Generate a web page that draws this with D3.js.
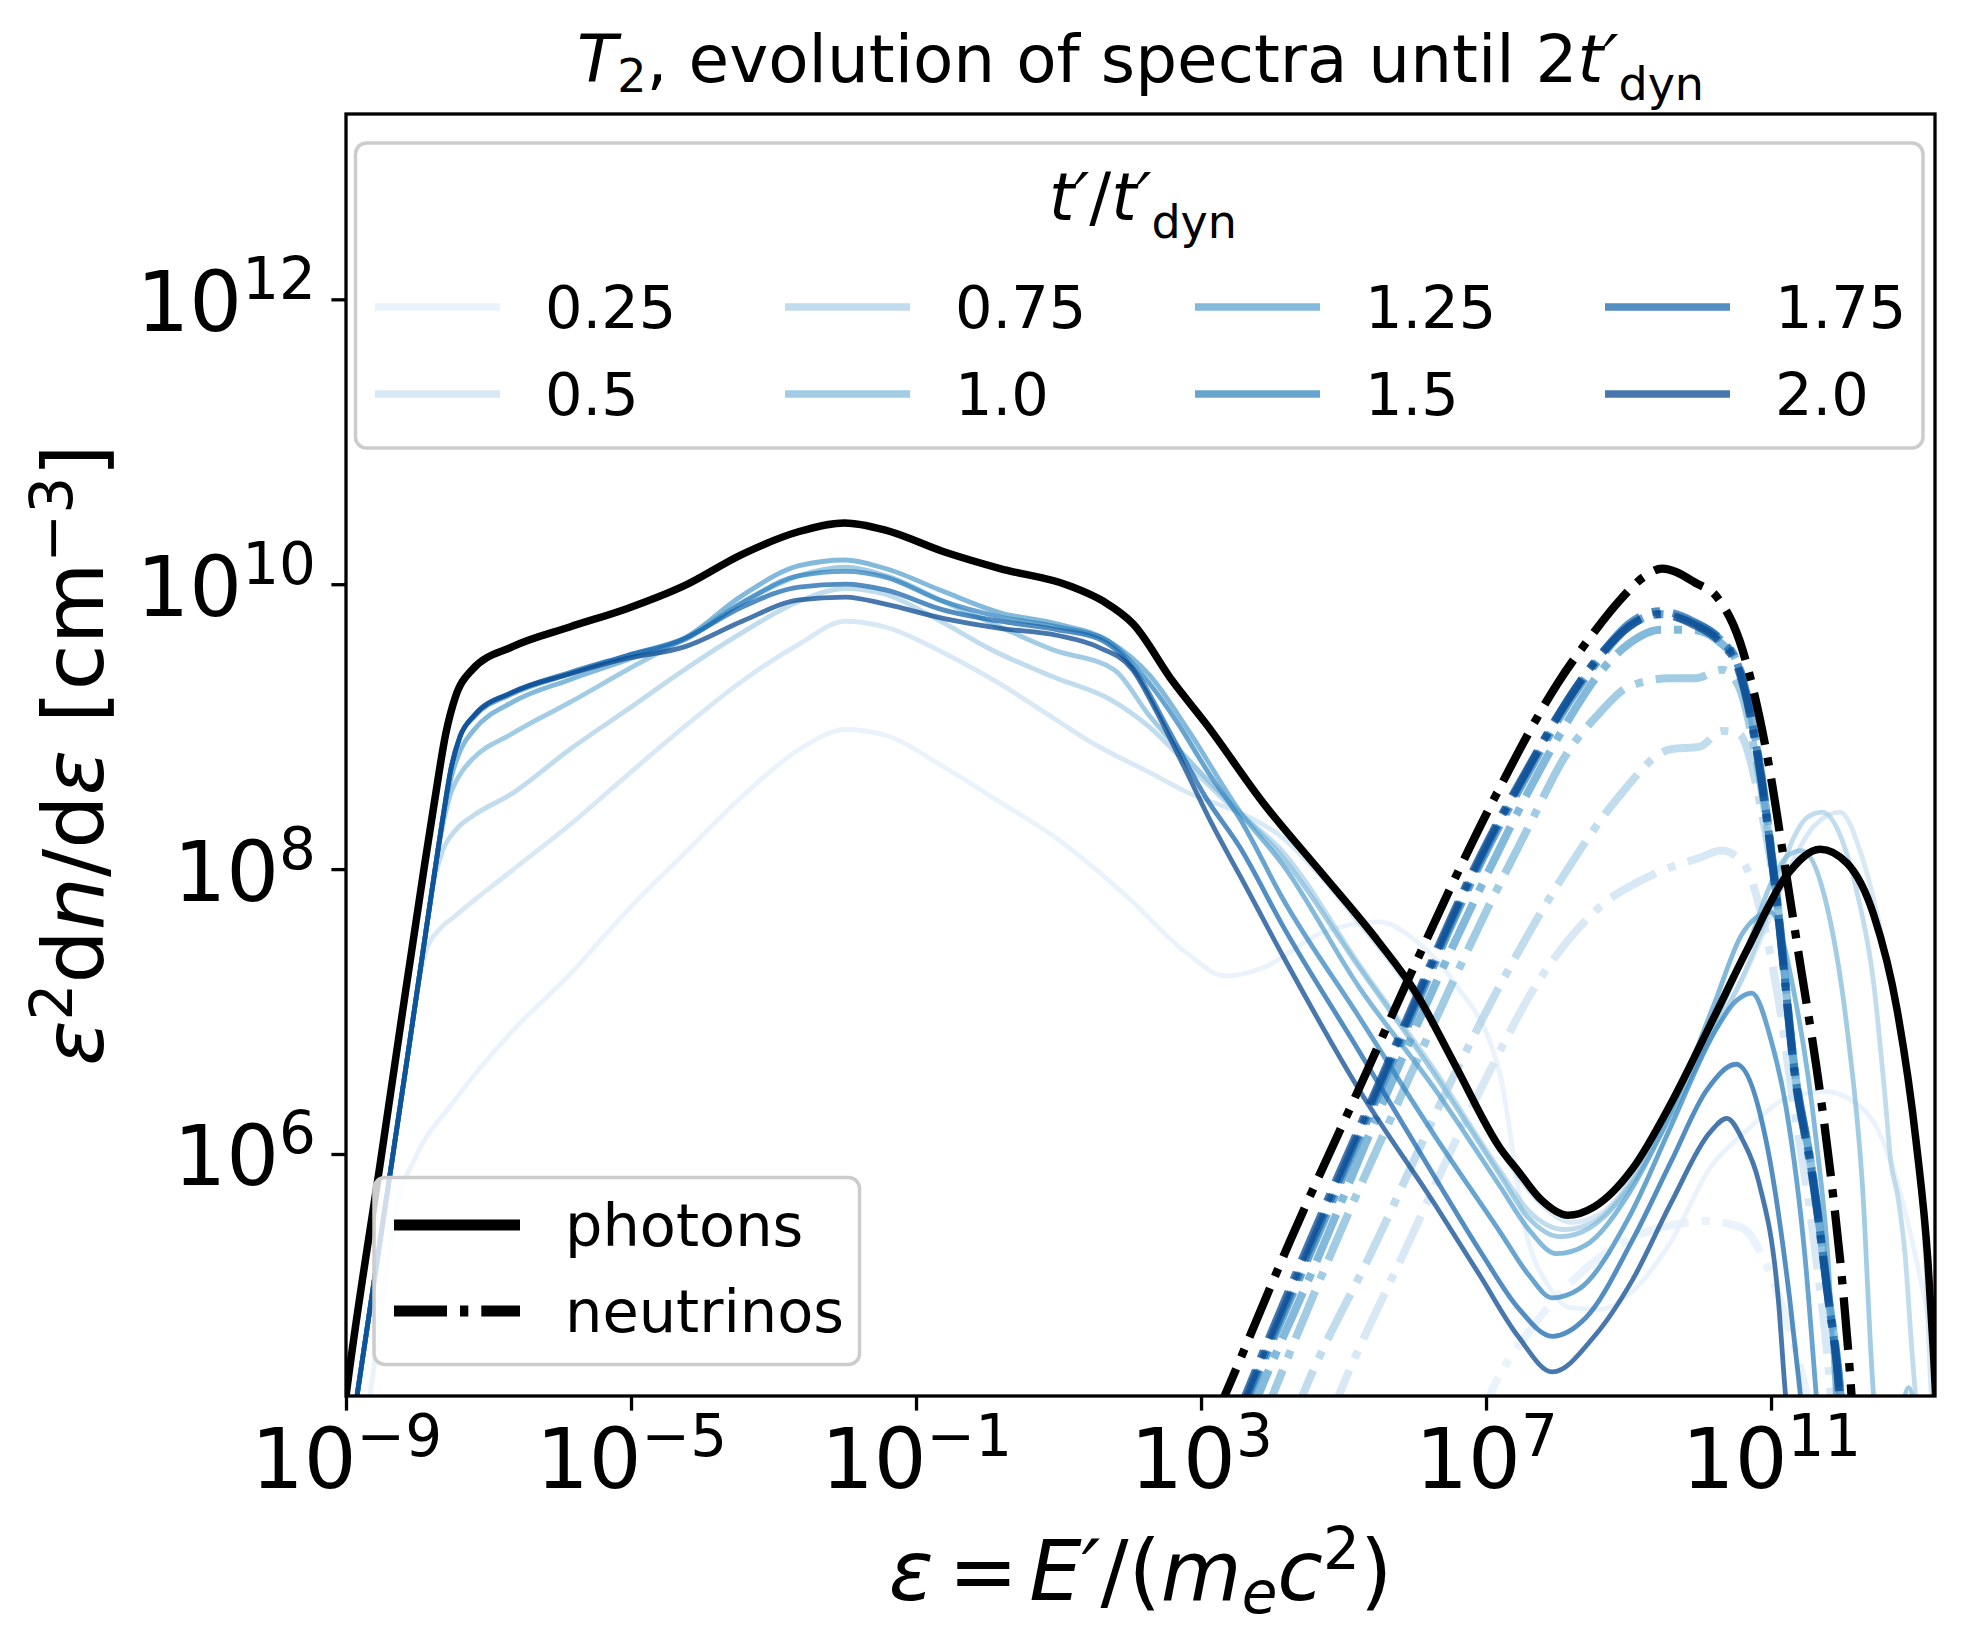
<!DOCTYPE html>
<html>
<head>
<meta charset="utf-8">
<script src="https://cdn.jsdelivr.net/npm/d3@7"></script>
<style>
  body { margin: 0; background: #fff; }
  text { font-family: "DejaVu Sans", sans-serif; fill: #000; }
</style>
</head>
<body>
<svg id="chart" width="1965" height="1648"></svg>
<script>
// values as [log10(E'/mc^2), log10(eps^2 dn/deps)]
const times = ["0.25", "0.5", "0.75", "1.0", "1.25", "1.5", "1.75", "2.0"]

const photons025 = [[-8.72,4.1],[-8.5,4.9],[-8.28,5.65],[-8.05,5.95],[-7.47,6.38],[-6.67,6.86],[-5.86,7.26],[-5.05,7.71],[-4.25,8.11],[-3.44,8.51],[-2.64,8.84],[-1.99,8.98],[-1.43,8.94],[-0.62,8.72],[0.18,8.47],[0.99,8.21],[2.0,7.79],[2.8,7.41],[3.34,7.25],[3.88,7.31],[4.68,7.55],[5.49,7.63],[6.03,7.49],[6.56,7.2],[7.2,6.55],[7.56,5.45],[7.88,5.07],[8.2,4.92],[8.6,4.91],[9.06,5.04],[9.6,5.39],[10.14,5.9],[10.67,6.17],[11.21,6.39],[11.75,6.44],[12.18,6.36],[12.5,6.17],[12.77,5.8],[12.98,5.39],[13.2,4.86],[13.32,4.5]]
const photons050 = [[-8.95,3.95],[-8.12,6.74],[-7.98,7.2],[-7.88,7.42],[-7.7,7.57],[-7.47,7.67],[-6.67,7.99],[-5.86,8.31],[-5.05,8.66],[-4.25,9.0],[-3.44,9.32],[-2.64,9.58],[-1.99,9.74],[-1.43,9.7],[-0.62,9.52],[0.18,9.3],[0.9,9.07],[1.46,8.89],[2.27,8.68],[2.8,8.54],[3.61,8.38],[4.15,8.22],[4.68,7.95],[5.22,7.62],[5.76,7.28],[6.29,6.86],[6.83,6.35],[7.3,5.95],[7.75,5.66],[8.2,5.52],[8.6,5.58],[9.1,5.86],[9.6,6.28],[10.14,6.8],[10.67,7.3],[11.0,7.68],[11.3,8.05],[11.6,8.3],[11.97,8.4],[12.28,8.08],[12.71,7.14],[12.98,6.33],[13.14,5.53],[13.25,4.3],[13.32,3.9]]
const photons075 = [[-8.95,3.95],[-8.12,6.74],[-7.85,7.65],[-7.78,7.88],[-7.65,8.12],[-7.45,8.28],[-7.23,8.37],[-6.67,8.53],[-5.86,8.84],[-5.05,9.12],[-4.25,9.4],[-3.44,9.66],[-2.64,9.88],[-1.99,9.97],[-1.43,9.93],[-0.62,9.73],[0.06,9.54],[0.92,9.35],[1.73,9.19],[2.27,9.0],[2.8,8.74],[3.4,8.45],[4.15,8.12],[5.22,7.33],[6.29,6.58],[7.2,5.88],[7.6,5.6],[8.1,5.47],[8.5,5.52],[9.06,5.82],[9.6,6.27],[10.14,6.8],[10.67,7.32],[11.0,7.75],[11.3,8.2],[11.5,8.36],[11.72,8.4],[12.0,8.2],[12.2,7.85],[12.44,7.2],[12.6,6.4],[12.68,5.95],[12.78,5.7],[12.88,5.3],[12.98,4.6],[13.06,4.1]]
const photons100 = [[-8.95,3.95],[-8.12,6.74],[-7.8,7.83],[-7.69,8.18],[-7.55,8.5],[-7.38,8.68],[-7.23,8.77],[-6.67,8.95],[-5.86,9.17],[-5.05,9.4],[-4.25,9.62],[-3.44,9.87],[-2.64,10.06],[-1.99,10.12],[-1.43,10.06],[-0.62,9.88],[0.18,9.7],[0.92,9.54],[1.78,9.4],[2.27,9.08],[2.8,8.78],[3.4,8.47],[4.15,8.08],[5.22,7.31],[6.29,6.55],[7.2,5.85],[7.6,5.55],[8.04,5.42],[8.45,5.48],[9.06,5.8],[9.6,6.28],[10.14,6.85],[10.67,7.45],[11.0,7.9],[11.25,8.1],[11.43,8.13],[11.75,7.81],[12.07,6.87],[12.28,5.8],[12.44,4.3],[12.55,3.9],[12.75,4.0],[12.93,4.36],[13.08,3.9]]
const photons125 = [[-8.95,3.95],[-8.12,6.74],[-7.8,7.83],[-7.65,8.33],[-7.52,8.65],[-7.38,8.85],[-7.2,8.98],[-6.67,9.17],[-5.86,9.33],[-5.05,9.47],[-4.25,9.62],[-3.44,9.92],[-2.64,10.13],[-1.99,10.17],[-1.43,10.11],[-0.62,9.95],[0.18,9.8],[0.99,9.72],[1.71,9.6],[2.28,9.36],[2.84,8.96],[3.55,8.4],[4.15,8.03],[5.22,7.17],[6.29,6.45],[7.2,5.77],[7.6,5.47],[7.99,5.3],[8.4,5.36],[9.0,5.72],[9.6,6.3],[10.2,7.05],[10.6,7.55],[10.99,7.7],[11.32,7.14],[11.64,6.07],[11.8,5.26],[11.91,4.27],[12.0,3.8]]
const photons150 = [[-8.95,3.95],[-8.12,6.74],[-7.8,7.83],[-7.65,8.33],[-7.52,8.72],[-7.4,8.93],[-7.2,9.07],[-6.67,9.23],[-5.86,9.37],[-5.05,9.5],[-4.25,9.61],[-3.44,9.87],[-2.64,10.06],[-1.99,10.09],[-1.43,10.05],[-0.62,9.88],[0.18,9.77],[0.99,9.7],[1.63,9.62],[2.2,9.35],[2.68,9.02],[3.1,8.68],[3.55,8.35],[4.15,7.79],[5.22,6.96],[6.29,6.12],[7.2,5.45],[7.6,5.15],[7.93,4.99],[8.3,5.05],[9.0,5.55],[9.6,6.2],[10.2,6.85],[10.5,7.07],[10.73,7.13],[11.0,6.8],[11.21,6.33],[11.48,5.26],[11.64,4.27],[11.7,3.9]]
const photons175 = [[-8.95,3.95],[-8.12,6.74],[-7.8,7.83],[-7.65,8.33],[-7.52,8.72],[-7.4,8.93],[-7.2,9.08],[-6.67,9.24],[-5.86,9.38],[-5.05,9.5],[-4.25,9.62],[-3.44,9.84],[-2.64,9.98],[-1.99,10.0],[-1.43,9.96],[-0.62,9.82],[0.18,9.74],[0.99,9.68],[1.55,9.62],[2.12,9.36],[2.52,9.0],[3.07,8.5],[3.55,8.15],[4.15,7.6],[5.22,6.72],[6.29,5.83],[6.94,5.3],[7.45,4.92],[7.93,4.72],[8.4,4.85],[9.06,5.4],[9.6,5.95],[10.1,6.45],[10.51,6.63],[10.94,6.07],[11.26,4.99],[11.42,4.27],[11.5,3.9]]
const photons200 = [[-8.95,3.95],[-8.12,6.74],[-7.8,7.83],[-7.65,8.33],[-7.52,8.72],[-7.4,8.93],[-7.2,9.08],[-6.67,9.24],[-5.86,9.37],[-5.05,9.48],[-4.25,9.56],[-3.44,9.74],[-2.64,9.89],[-1.99,9.91],[-1.43,9.86],[-0.62,9.76],[0.18,9.69],[0.99,9.64],[1.55,9.56],[2.04,9.4],[2.36,9.12],[2.76,8.72],[3.16,8.31],[3.55,7.95],[4.15,7.39],[5.22,6.45],[6.29,5.64],[6.91,5.15],[7.45,4.72],[7.93,4.47],[8.52,4.72],[9.06,5.12],[9.6,5.66],[10.14,6.15],[10.38,6.25],[10.6,6.1],[10.83,5.8],[11.1,4.99],[11.21,4.27],[11.3,3.9]]
const photonsFinal = [[-9.05,4.1],[-9.0,4.3],[-8.5,6.0],[-8.2,7.02],[-7.9,8.02],[-7.75,8.5],[-7.6,8.95],[-7.47,9.2],[-7.23,9.4],[-6.67,9.56],[-5.86,9.7],[-5.05,9.83],[-4.25,9.99],[-3.44,10.21],[-2.64,10.37],[-2.0,10.43],[-1.43,10.38],[-0.62,10.23],[0.18,10.11],[1.15,9.99],[1.63,9.88],[2.05,9.72],[2.6,9.32],[3.07,9.02],[3.88,8.46],[4.68,7.98],[5.49,7.49],[6.03,7.12],[6.56,6.63],[7.2,6.04],[7.45,5.88],[7.77,5.68],[8.15,5.57],[8.52,5.63],[9.06,5.9],[9.6,6.36],[10.14,6.9],[10.67,7.44],[11.21,7.95],[11.69,8.14],[12.07,8.04],[12.44,7.68],[12.77,7.01],[13.04,6.07],[13.2,5.26],[13.28,4.6],[13.32,4.2]]

const neutrinos025 = [[6.9,4.1],[7.05,4.3],[7.6,4.75],[8.3,5.15],[9.0,5.4],[9.6,5.5],[10.1,5.53],[10.6,5.48],[10.95,5.2],[11.3,4.7],[11.5,4.3],[11.6,4.0]]
const neutrinos050 = [[4.81,4.15],[4.93,4.3],[5.86,5.32],[6.97,6.5],[7.72,7.2],[8.52,7.7],[9.38,7.97],[10.0,8.08],[10.3,8.13],[10.6,8.05],[10.89,7.63],[11.1,7.1],[11.3,6.4],[11.6,5.4],[11.84,4.3],[11.9,3.9]]
const neutrinos075 = [[4.3,4.15],[4.42,4.3],[5.43,5.35],[6.5,6.5],[7.3,7.28],[8.12,7.98],[8.85,8.5],[9.58,8.84],[10.0,8.86],[10.31,8.97],[10.55,8.95],[10.85,8.45],[11.1,7.68],[11.32,6.6],[11.59,5.8],[11.8,4.99],[11.96,4.27],[12.0,3.9]]
const neutrinos100 = [[3.88,4.15],[4.0,4.3],[4.84,5.32],[5.8,6.4],[7.0,7.7],[7.6,8.3],[8.12,8.8],[8.6,9.1],[9.0,9.28],[9.58,9.34],[9.94,9.34],[10.31,9.4],[10.53,9.3],[10.8,8.75],[11.1,7.72],[11.32,6.64],[11.59,5.84],[11.8,5.02],[11.98,4.27],[12.03,3.9]]
const neutrinos125 = [[3.68,4.15],[3.8,4.3],[4.65,5.28],[5.5,6.3],[7.05,8.0],[7.6,8.55],[8.1,9.0],[8.6,9.38],[9.0,9.58],[9.45,9.68],[9.9,9.68],[10.31,9.58],[10.53,9.45],[10.82,8.8],[11.1,7.72],[11.32,6.64],[11.59,5.84],[11.8,5.02],[11.98,4.27],[12.03,3.9]]
const neutrinos150 = [[3.56,4.15],[3.68,4.3],[4.53,5.3],[5.5,6.43],[7.05,8.17],[7.6,8.68],[8.1,9.12],[8.6,9.48],[9.0,9.7],[9.43,9.79],[9.9,9.73],[10.31,9.6],[10.53,9.45],[10.82,8.8],[11.1,7.72],[11.32,6.64],[11.59,5.84],[11.8,5.02],[11.98,4.27],[12.03,3.9]]
const neutrinos175 = [[3.53,4.15],[3.65,4.3],[4.5,5.31],[5.5,6.47],[7.05,8.2],[7.6,8.71],[8.1,9.15],[8.6,9.5],[9.0,9.72],[9.43,9.81],[9.9,9.74],[10.31,9.6],[10.53,9.44],[10.82,8.78],[11.1,7.7],[11.32,6.62],[11.59,5.82],[11.8,5.0],[11.97,4.27],[12.02,3.9]]
const neutrinos200 = [[3.5,4.15],[3.62,4.3],[4.47,5.32],[5.5,6.5],[7.05,8.22],[7.6,8.72],[8.1,9.15],[8.6,9.5],[9.0,9.7],[9.43,9.79],[9.9,9.72],[10.31,9.58],[10.53,9.42],[10.82,8.76],[11.1,7.68],[11.32,6.6],[11.59,5.8],[11.8,4.99],[11.96,4.27],[12.0,3.9]]
const neutrinosFinal = [[3.2,4.15],[3.33,4.3],[4.25,5.39],[5.3,6.55],[5.93,7.25],[7.15,8.53],[8.0,9.3],[8.48,9.64],[8.9,9.9],[9.21,10.05],[9.47,10.11],[9.94,10.01],[10.24,9.91],[10.56,9.6],[10.75,9.26],[10.99,8.67],[11.17,8.1],[11.42,7.3],[11.64,6.6],[11.85,5.8],[12.02,4.99],[12.13,4.3],[12.18,3.9]]

const photonSeries = [photons025, photons050, photons075, photons100, photons125, photons150, photons175, photons200]
const neutrinoSeries = [neutrinos025, neutrinos050, neutrinos075, neutrinos100, neutrinos125, neutrinos150, neutrinos175, neutrinos200]

const xTicks = [1e-9, 1e-5, 1e-1, 1e3, 1e7, 1e11]
const xTickExp = ["\u22129", "\u22125", "\u22121", "3", "7", "11"]
const yTicks = [1e6, 1e8, 1e10, 1e12]
const yTickExp = ["6", "8", "10", "12"]

const svg = d3.select("#chart")
const plotL = 346, plotR = 1935, plotT = 114, plotB = 1396

const x = d3.scaleLog().domain([1e-9, 2e13]).range([plotL, plotR])
const y = d3.scaleLog().domain([2e4, 2e13]).range([plotB, plotT])

const blues = times.map((t, i) => d3.interpolateBlues(0.1 + 0.8 * i / 7))

svg.append("rect").attr("width", 1965).attr("height", 1648).attr("fill", "#fff")

svg.append("defs").append("clipPath").attr("id", "plot-area")
  .append("rect")
  .attr("x", plotL).attr("y", plotT)
  .attr("width", plotR - plotL).attr("height", plotB - plotT)

const line = d3.line()
  .x(d => x(10 ** d[0]))
  .y(d => y(10 ** d[1]))
  .curve(d3.curveMonotoneX)

const plot = svg.append("g").attr("clip-path", "url(#plot-area)")

// coloured spectra, one time step at a time
photonSeries.forEach((s, i) => {
  plot.append("path")
    .attr("d", line(s))
    .attr("fill", "none")
    .attr("stroke", blues[i])
    .attr("stroke-opacity", 0.75)
    .attr("stroke-width", 4.8)
  plot.append("path")
    .attr("d", line(neutrinoSeries[i]))
    .attr("fill", "none")
    .attr("stroke", blues[i])
    .attr("stroke-opacity", 0.75)
    .attr("stroke-width", 8)
    .attr("stroke-dasharray", "51,13,8,13")
})

// final (black) spectra
plot.append("path")
  .attr("d", line(photonsFinal))
  .attr("fill", "none")
  .attr("stroke", "#000")
  .attr("stroke-width", 7.5)

plot.append("path")
  .attr("d", line(neutrinosFinal))
  .attr("fill", "none")
  .attr("stroke", "#000")
  .attr("stroke-width", 8.3)
  .attr("stroke-dasharray", "53,13,8.3,13")

// axes
function powerLabel(sel, exps) {
  sel.each(function(d, i) {
    const t = d3.select(this).text(null)
    t.append("tspan").text("10")
    t.append("tspan").attr("dy", -32).attr("font-size", 58).text(exps[i])
  })
}

const gx = svg.append("g")
  .attr("transform", `translate(0,${plotB})`)
  .call(d3.axisBottom(x).tickValues(xTicks).tickSize(14.6).tickSizeOuter(0))
  .attr("font-family", null).attr("font-size", null)
gx.select(".domain").remove()
gx.selectAll(".tick line").attr("stroke", "#000").attr("stroke-width", 3.3)
gx.selectAll(".tick text")
  .attr("y", 92).attr("dy", null)
  .attr("font-size", 83)
  .attr("fill", "#000")
  .call(powerLabel, xTickExp)

const gy = svg.append("g")
  .attr("transform", `translate(${plotL},0)`)
  .call(d3.axisLeft(y).tickValues(yTicks).tickSize(14.6).tickSizeOuter(0))
  .attr("font-family", null).attr("font-size", null)
gy.select(".domain").remove()
gy.selectAll(".tick line").attr("stroke", "#000").attr("stroke-width", 3.3)
gy.selectAll(".tick text")
  .attr("x", -30).attr("y", 31).attr("dy", null)
  .attr("font-size", 83)
  .attr("fill", "#000")
  .call(powerLabel, yTickExp)

svg.append("rect")
  .attr("x", plotL).attr("y", plotT)
  .attr("width", plotR - plotL).attr("height", plotB - plotT)
  .attr("fill", "none")
  .attr("stroke", "#000")
  .attr("stroke-width", 3.3)

// title
const title = svg.append("text")
  .attr("x", (plotL + plotR) / 2).attr("y", 82)
  .attr("text-anchor", "middle")
  .attr("font-size", 66)
title.append("tspan").attr("font-style", "italic").text("T")
title.append("tspan").attr("font-size", 46).attr("dy", 10).text("2")
title.append("tspan").attr("dy", -10).text(", evolution of spectra until 2")
title.append("tspan").attr("font-style", "italic").text("t\u2032")
title.append("tspan").attr("font-size", 46).attr("dy", 18).text("dyn")

// axis labels
const xl = svg.append("text")
  .attr("x", (plotL + plotR) / 2).attr("y", 1600)
  .attr("text-anchor", "middle")
  .attr("font-size", 83)
xl.append("tspan").attr("font-style", "italic").text("\u03b5")
xl.append("tspan").attr("dx", 15).text("=")
xl.append("tspan").attr("dx", 11).attr("font-style", "italic").text("E\u2032")
xl.append("tspan").text("/(")
xl.append("tspan").attr("font-style", "italic").text("m")
xl.append("tspan").attr("font-style", "italic").attr("font-size", 58).attr("dy", 13).text("e")
xl.append("tspan").attr("font-style", "italic").attr("dy", -13).text("c")
xl.append("tspan").attr("font-size", 58).attr("dy", -31).text("2")
xl.append("tspan").attr("dy", 31).text(")")

const yl = svg.append("text")
  .attr("transform", `translate(103,${(plotT + plotB) / 2}) rotate(-90)`)
  .attr("text-anchor", "middle")
  .attr("font-size", 84)
yl.append("tspan").attr("font-style", "italic").text("\u03b5")
yl.append("tspan").attr("font-size", 58).attr("dy", -31).text("2")
yl.append("tspan").attr("dy", 31).text("d")
yl.append("tspan").attr("font-style", "italic").text("n")
yl.append("tspan").text("/d")
yl.append("tspan").attr("font-style", "italic").text("\u03b5")
yl.append("tspan").text(" [cm")
yl.append("tspan").attr("font-size", 58).attr("dy", -31).text("\u22123")
yl.append("tspan").attr("dy", 31).text("]")

// legend of time steps
const legTop = svg.append("g")
legTop.append("rect")
  .attr("x", 355.5).attr("y", 143)
  .attr("width", 1567.5).attr("height", 305)
  .attr("rx", 11)
  .attr("fill", "#fff").attr("fill-opacity", 0.8)
  .attr("stroke", "#cccccc").attr("stroke-width", 3.5)

const lt = legTop.append("text")
  .attr("x", 1143).attr("y", 220)
  .attr("text-anchor", "middle")
  .attr("font-size", 65)
lt.append("tspan").attr("font-style", "italic").text("t\u2032")
lt.append("tspan").text("/")
lt.append("tspan").attr("font-style", "italic").text("t\u2032")
lt.append("tspan").attr("font-size", 46).attr("dy", 18).text("dyn")

const items = legTop.selectAll("g.item")
  .data(times)
  .enter()
  .append("g")
  .attr("class", "item")
  .attr("transform", (d, i) => {
    const col = Math.floor(i / 2)
    const row = i % 2
    return `translate(${375 + col * 410}, ${307 + row * 87})`
  })

items.append("line")
  .attr("x1", 0).attr("x2", 125)
  .attr("stroke", (d, i) => blues[i])
  .attr("stroke-opacity", 0.75)
  .attr("stroke-width", 7.7)

items.append("text")
  .attr("x", 170).attr("y", 21)
  .attr("font-size", 59)
  .text(d => d)

// legend of particle types
const legBot = svg.append("g")
legBot.append("rect")
  .attr("x", 374).attr("y", 1177.5)
  .attr("width", 485.5).attr("height", 187)
  .attr("rx", 11)
  .attr("fill", "#fff").attr("fill-opacity", 0.8)
  .attr("stroke", "#cccccc").attr("stroke-width", 3.5)

const kinds = [
  { label: "photons", dash: null, y: 1225 },
  { label: "neutrinos", dash: "53,13,8.3,13", y: 1311 }
]

const kindItems = legBot.selectAll("g.kind")
  .data(kinds)
  .enter()
  .append("g")
  .attr("class", "kind")
  .attr("transform", d => `translate(394, ${d.y})`)

kindItems.append("line")
  .attr("x1", 0).attr("x2", 126)
  .attr("stroke", "#000")
  .attr("stroke-width", 11)
  .attr("stroke-dasharray", d => d.dash)

kindItems.append("text")
  .attr("x", 171).attr("y", 21)
  .attr("font-size", 59)
  .text(d => d.label)
</script>
</body>
</html>
